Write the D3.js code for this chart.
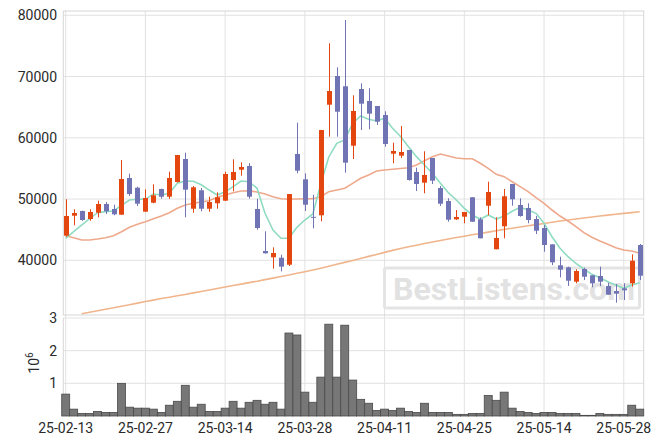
<!DOCTYPE html>
<html><head><meta charset="utf-8">
<script src="https://cdn.jsdelivr.net/npm/d3@7"></script>
<style>body{margin:0;background:#fff} svg{display:block;font-family:Roboto,"DejaVu Sans",sans-serif}</style>
</head><body><svg id="chart" width="663" height="445"></svg>
<script>
const dates = ["25-02-13","25-02-14","25-02-17","25-02-18","25-02-19","25-02-20","25-02-21","25-02-24","25-02-25","25-02-26","25-02-27","25-02-28",
"25-03-04","25-03-05","25-03-06","25-03-07","25-03-10","25-03-11","25-03-12","25-03-13","25-03-14","25-03-17","25-03-18","25-03-19","25-03-20","25-03-21","25-03-24","25-03-25","25-03-26","25-03-27","25-03-28","25-03-31",
"25-04-01","25-04-02","25-04-03","25-04-04","25-04-07","25-04-08","25-04-09","25-04-10","25-04-11","25-04-14","25-04-15","25-04-16","25-04-17","25-04-18","25-04-21","25-04-22","25-04-23","25-04-24","25-04-25","25-04-28","25-04-29","25-04-30",
"25-05-02","25-05-07","25-05-08","25-05-09","25-05-12","25-05-13","25-05-14","25-05-15","25-05-16","25-05-19","25-05-20","25-05-21","25-05-22","25-05-23","25-05-26","25-05-27","25-05-28","25-05-29","25-05-30"];
const open  = [44020,47280,48050,46740,47770,49190,48380,47450,53440,51850,47940,49400,51640,50380,52780,56540,48420,51430,48420,49310,49730,53110,54790,55400,48380,41520,40490,40420,39280,57360,53220,47100,47350,65400,70090,68410,58710,67970,66010,65190,63720,57400,57080,58010,54420,52670,56700,51800,49680,46690,47120,50290,46690,48910,41800,45550,52460,49030,48540,46740,45270,42610,39180,38860,36510,38580,37550,37440,35800,34990,35430,36240,42500];
const high  = [49960,48330,48100,48330,49730,49520,49080,56380,54140,52020,51590,52410,51690,54470,57200,57570,52130,51800,50380,51100,54470,56490,56000,55840,50060,44730,42120,40910,50820,62470,54200,50710,61300,75430,71510,79230,66940,68900,68080,65190,64330,59200,61930,58050,55120,57800,56700,52130,50120,48210,47890,50290,47020,52830,47020,51640,52460,50120,49310,47230,45760,42610,40590,38960,38530,38800,37550,38960,36340,36130,36250,40980,42660];
const low   = [43850,45710,46450,46470,47020,47560,47350,47400,50500,48870,47890,49310,50060,50010,52700,47020,47770,48000,47940,48420,49680,51270,53810,50060,45000,41100,38630,38200,39070,54200,48050,45220,46370,60180,60180,54300,56540,61270,61390,62090,58550,55840,56700,53000,51310,50940,52460,48870,46300,46580,46040,46300,43590,47350,41800,43590,48910,47120,46040,44290,41400,39230,37220,35800,36240,36780,35590,35800,34380,33080,33520,35690,36780];
const close = [47230,47720,46580,47890,49190,48000,47510,53270,50820,49240,50170,50610,50380,53440,57190,51530,51920,48420,49520,50290,54090,54420,55230,50380,45270,41140,41190,38960,50820,54630,49080,46950,61270,67640,64260,55940,64380,65570,63940,62630,58990,57850,57680,53110,52460,53930,53000,49240,46630,47070,47890,46300,43590,51150,43640,50450,49960,47230,46580,44830,42500,39670,38470,36670,38250,37320,36240,36510,34380,34550,35100,39930,37490];
const volume = [0.67,0.21,0.08,0.08,0.14,0.11,0.11,1.00,0.27,0.24,0.24,0.21,0.11,0.33,0.45,0.94,0.27,0.36,0.14,0.14,0.24,0.45,0.24,0.42,0.48,0.36,0.42,0.21,2.54,2.48,0.73,0.42,1.19,2.81,1.19,2.78,1.10,0.51,0.39,0.17,0.21,0.17,0.24,0.14,0.11,0.39,0.11,0.11,0.11,0.05,0.05,0.08,0.08,0.63,0.48,0.73,0.24,0.14,0.11,0.08,0.11,0.11,0.08,0.08,0.08,0.02,0.02,0.08,0.05,0.05,0.05,0.33,0.21];
const ma5 = [43590,44670,45760,46790,47770,47940,48050,48980,49840,49960,49960,50820,50660,50940,52570,52950,52900,52340,51470,50660,51200,52020,52950,52830,51760,47670,44950,43590,43590,45390,46580,47560,52460,56870,59100,59640,62370,63560,63020,62740,63190,61550,60200,58550,56920,55560,54200,52570,51040,49840,48490,47400,46690,47400,46740,47230,48000,48650,48210,47670,46040,43850,41960,40590,39510,38580,37710,37160,36510,35970,35430,35970,36340];
const ma20 = [44020,43690,43310,43310,43480,43690,44020,44670,45390,45880,46300,46790,47230,47770,48490,49030,49310,49520,49730,50290,50660,51040,51310,51360,51150,50820,50380,50060,49960,50010,50060,50060,50380,51200,51480,51760,52570,53390,53930,54580,54740,54860,54990,55120,55560,56260,56910,57350,57030,56700,56590,56590,55840,55020,54040,53650,52830,52020,51200,50220,49310,48210,47230,46410,45490,44510,43760,43150,42610,42060,41690,41520,41140];
const ma120 = [null,null,31270,31510,31760,32000,32240,32510,32750,33010,33260,33500,33750,33980,34200,34430,34680,34910,35150,35410,35640,35890,36110,36360,36590,36850,37090,37350,37600,37880,38140,38420,38710,39020,39350,39660,39980,40310,40640,40960,41290,41620,41940,42200,42470,42730,42990,43230,43480,43710,43930,44160,44380,44600,44830,45050,45240,45440,45630,45830,46020,46220,46420,46580,46740,46910,47070,47230,47380,47510,47660,47790,47930];
const priceTicks = [40000,50000,60000,70000,80000];
const volTicks = [1,2,3];
const dateTickIdx = [0,10,20,30,40,50,60,70];

const L=63.3, R=643.7, PT=11, PB=315, VT=318, VB=416;
const svg = d3.select("#chart");
svg.append("rect").attr("width",663).attr("height",445).attr("fill","#fff");
const idx = d3.range(dates.length);
const x = d3.scaleLinear().domain([-0.3, 72.5]).range([L, R]);
const y = d3.scaleLinear().domain([31070, 80700]).range([PB, PT]);
const yv = d3.scaleLinear().domain([0, 3]).range([VB, VT]);
const grid = "#e2e2e2";

// grids
svg.append("g").selectAll("line").data(priceTicks).join("line")
  .attr("x1",L).attr("x2",R).attr("y1",d=>y(d)).attr("y2",d=>y(d)).attr("stroke",grid);
svg.append("g").selectAll("line").data(volTicks).join("line")
  .attr("x1",L).attr("x2",R).attr("y1",d=>yv(d)).attr("y2",d=>yv(d)).attr("stroke",grid);
svg.append("g").selectAll("line").data(dateTickIdx).join("line")
  .attr("x1",d=>x(d)).attr("x2",d=>x(d)).attr("y1",PT).attr("y2",VB).attr("stroke",grid);
svg.append("rect").attr("x",L).attr("y",PT).attr("width",R-L).attr("height",PB-PT).attr("fill","none").attr("stroke","#d6d6d6");
svg.append("line").attr("x1",L).attr("x2",L).attr("y1",VT).attr("y2",VB).attr("stroke","#d6d6d6");
svg.append("line").attr("x1",R).attr("x2",R).attr("y1",VT).attr("y2",VB).attr("stroke","#d6d6d6");

// watermark
const wm = svg.append("g");
wm.append("rect").attr("x",384.5).attr("y",268).attr("width",255).attr("height",40).attr("rx",2)
  .attr("fill","none").attr("stroke","#e4e4e4").attr("stroke-width",3);
wm.append("text").attr("x",393).attr("y",299.5).attr("font-size",32).attr("font-weight","bold")
  .attr("fill","#e2e2e2").attr("textLength",242).attr("lengthAdjust","spacingAndGlyphs").text("BestListens.com");

// clip
svg.append("clipPath").attr("id","pc").append("rect").attr("x",L).attr("y",PT).attr("width",R-L).attr("height",PB-PT);
const pg = svg.append("g").attr("clip-path","url(#pc)");

const mkLine = arr => d3.line().defined(i=>arr[i]!=null).x(i=>x(i)).y(i=>y(arr[i]));
pg.append("path").attr("d",mkLine(ma120)(idx)).attr("fill","none").attr("stroke","#f0b58c").attr("stroke-width",1.6);
pg.append("path").attr("d",mkLine(ma20)(idx)).attr("fill","none").attr("stroke","#eea98c").attr("stroke-width",1.6);
pg.append("path").attr("d",mkLine(ma5)(idx)).attr("fill","none").attr("stroke","#90dcc2").attr("stroke-width",1.6);

const UP="#e4460f", DN="#7074b4";
const col = i => close[i]>=open[i]?UP:DN;
const cg = pg.append("g");
cg.selectAll("line").data(idx).join("line")
  .attr("x1",i=>Math.round(x(i))+0.5).attr("x2",i=>Math.round(x(i))+0.5)
  .attr("y1",i=>y(high[i])).attr("y2",i=>y(low[i])).attr("stroke",col).attr("stroke-width",1);
cg.selectAll("rect").data(idx).join("rect")
  .attr("x",i=>Math.round(x(i))+0.5-2.5).attr("width",5)
  .attr("y",i=>y(Math.max(open[i],close[i])))
  .attr("height",i=>Math.max(1,y(Math.min(open[i],close[i]))-y(Math.max(open[i],close[i]))))
  .attr("fill",col);

// volume
svg.append("g").selectAll("rect").data(idx).join("rect")
  .attr("x",i=>x(i-0.5)).attr("width",i=>x(i+0.5)-x(i-0.5))
  .attr("y",i=>yv(volume[i])).attr("height",i=>VB-yv(volume[i]))
  .attr("fill","#777").attr("stroke","#4a4a4a").attr("stroke-width",0.8);

// axis labels
const tcol="#2a2a2a";
svg.append("g").selectAll("text").data(priceTicks).join("text")
  .attr("x",57).attr("y",d=>y(d)).attr("dy","0.36em").attr("text-anchor","end")
  .attr("font-size",14).attr("fill",tcol).text(d=>d);
svg.append("g").selectAll("text").data(volTicks).join("text")
  .attr("x",57).attr("y",d=>yv(d)).attr("dy","0.36em").attr("text-anchor","end")
  .attr("font-size",14).attr("fill",tcol).text(d=>d);
svg.append("g").selectAll("text").data(dateTickIdx).join("text")
  .attr("x",i=>x(i)).attr("y",433).attr("text-anchor","middle")
  .attr("font-size",14).attr("fill",tcol).text(i=>dates[i]);
const vl = svg.append("text").attr("transform","translate(39,363) rotate(-90)")
  .attr("text-anchor","middle").attr("font-size",14).attr("fill",tcol);
vl.append("tspan").text("10");
vl.append("tspan").attr("font-size",10).attr("dy",-6).text("6");
</script></body></html>
